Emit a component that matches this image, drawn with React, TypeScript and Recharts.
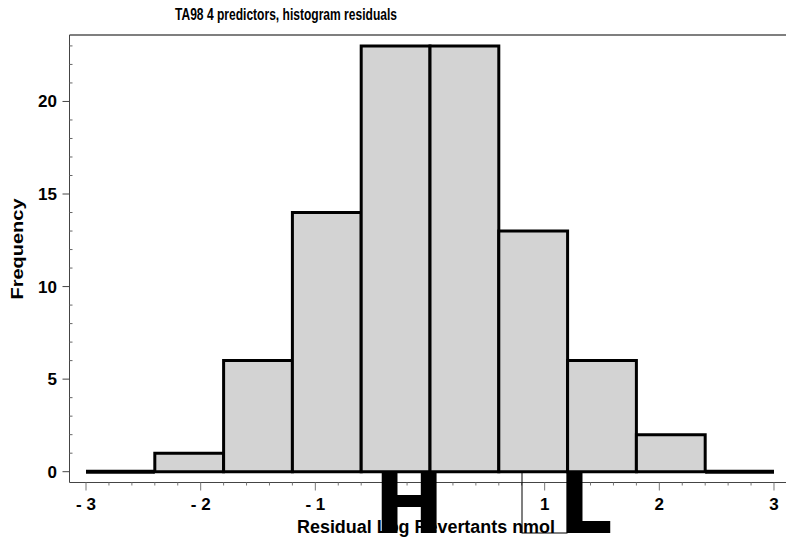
import React from "react";
import { ComposedChart, Line, XAxis, YAxis, ReferenceArea, ReferenceLine } from "recharts";

// histogram bins (residual, log revertants/nmol)
const binStart = [-3, -2.4, -1.8, -1.2, -0.6, 0, 0.6, 1.2, 1.8, 2.4];
const binEnd = [-2.4, -1.8, -1.2, -0.6, 0, 0.6, 1.2, 1.8, 2.4, 3];
const counts = [0, 1, 6, 14, 23, 23, 13, 6, 2, 0];

const xMajorTicks = [-3, -2, -1, 0, 1, 2, 3];
const xTickLabels = ["- 3", "- 2", "- 1", "0", "1", "2", "3"];
const yMajorTicks = [0, 5, 10, 15, 20];
const yTickLabels = ["0", "5", "10", "15", "20"];

const X_DOMAIN = [-3.144, 3.144];
const Y_DOMAIN = [-0.584, 23.59];

const FONT = "'Liberation Sans', Arial, sans-serif";

const data = counts.map((c, i) => ({
  lo: binStart[i],
  hi: binEnd[i],
  mid: (binStart[i] + binEnd[i]) / 2,
  count: c,
}));

// minor ticks every 0.2 on x, every 1 on y
const xTicks = Array.from({ length: 31 }, (_, i) => Math.round((-3 + i * 0.2) * 10) / 10);
const yTicks = Array.from({ length: 24 }, (_, i) => i);

function XTick(props: any) {
  const { x, y, payload } = props;
  const v = payload.value;
  const idx = xMajorTicks.indexOf(v);
  const major = idx >= 0;
  return (
    <g>
      <line x1={x} x2={x} y1={y} y2={y + (major ? 8 : 3)} stroke="#777" strokeWidth={1} />
      {major && (
        <text x={x} y={y + 27} textAnchor="middle" fontFamily={FONT} fontWeight="bold" fontSize={17} fill="#000">
          {xTickLabels[idx]}
        </text>
      )}
    </g>
  );
}

function YTick(props: any) {
  const { x, y, payload } = props;
  const idx = yMajorTicks.indexOf(payload.value);
  if (idx < 0) {
    return <line x1={x} x2={x + 3} y1={y} y2={y} stroke="#666" strokeWidth={1} />;
  }
  return (
    <g>
      <line x1={x - 7} x2={x} y1={y} y2={y} stroke="#444" strokeWidth={1} />
      <text x={x - 12.5} y={y + 6} textAnchor="end" fontFamily={FONT} fontWeight="bold" fontSize={17} fill="#000">
        {yTickLabels[idx]}
      </text>
    </g>
  );
}

export default function App() {
  return (
    <div style={{ position: "absolute", left: 0, top: 0, width: 786, height: 541, overflow: "hidden", background: "#fff" }}>
      <ComposedChart
        width={800}
        height={541}
        data={data}
        margin={{ top: 35, right: 9.5, bottom: 0, left: 0 }}
      >
        <XAxis
          dataKey="mid"
          type="number"
          domain={X_DOMAIN}
          allowDataOverflow
          ticks={xTicks}
          interval={0}
          tickSize={0}
          tickMargin={0}
          tickLine={false}
          tick={<XTick />}
          height={58.5}
          axisLine={{ stroke: "#444", strokeWidth: 1 }}
        />
        <YAxis
          type="number"
          domain={Y_DOMAIN}
          allowDataOverflow
          ticks={yTicks}
          interval={0}
          tickSize={0}
          tickMargin={0}
          tickLine={false}
          tick={<YTick />}
          width={69.5}
          axisLine={{ stroke: "#444", strokeWidth: 1 }}
        />
        <ReferenceLine
          segment={[{ x: X_DOMAIN[0], y: Y_DOMAIN[1] }, { x: X_DOMAIN[1], y: Y_DOMAIN[1] }]}
          stroke="#7f7f7f"
          strokeWidth={2}
          ifOverflow="visible"
        />
        {data.map((d, i) =>
          d.count > 0 ? (
            <ReferenceArea
              key={i}
              x1={d.lo}
              x2={d.hi}
              y1={0}
              y2={d.count}
              fill="#d3d3d3"
              fillOpacity={1}
              stroke="#000"
              strokeWidth={3}
              ifOverflow="visible"
            />
          ) : (
            <ReferenceLine
              key={i}
              segment={[{ x: d.lo, y: 0 }, { x: d.hi, y: 0 }]}
              stroke="#000"
              strokeWidth={4}
              ifOverflow="visible"
            />
          )
        )}
        <Line dataKey="count" stroke="none" dot={false} activeDot={false} isAnimationActive={false} legendType="none" />
      </ComposedChart>
      <svg
        width={786}
        height={541}
        style={{ position: "absolute", left: 0, top: 0, pointerEvents: "none" }}
      >
        <text x={286} y={20} textAnchor="middle" fontFamily={FONT} fontWeight="bold" fontSize={17} textLength={222} lengthAdjust="spacingAndGlyphs">
          TA98 4 predictors, histogram residuals
        </text>
        <text transform="translate(23,249) rotate(-90)" textAnchor="middle" fontFamily={FONT} fontWeight="bold" fontSize={16.5} textLength={101} lengthAdjust="spacingAndGlyphs">
          Frequency
        </text>
        <text x={297} y={533} fontFamily={FONT} fontWeight="bold" fontSize={17.5} textLength={258} lengthAdjust="spacingAndGlyphs">
          Residual Log Revertants nmol
        </text>
        <rect x={522} y={472} width={45} height={61} fill="none" stroke="#000" strokeWidth={1} />
        <text x={374} y={533} fontFamily="'DejaVu Sans', sans-serif" fontWeight="bold" fontSize={84} fill="#000">
          H
        </text>
        <text x={559} y={533} fontFamily="'DejaVu Sans', sans-serif" fontWeight="bold" fontSize={84} fill="#000">
          L
        </text>
      </svg>
    </div>
  );
}
